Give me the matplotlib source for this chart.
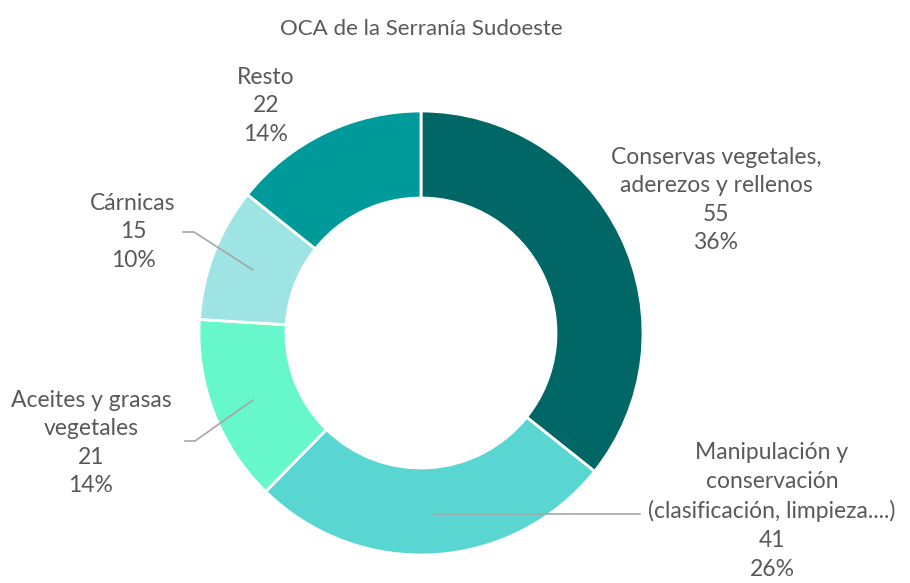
import matplotlib.pyplot as plt

# datos del grafico
categorias = ['Conservas vegetales,\naderezos y rellenos',
              'Manipulación y\nconservación\n(clasificación, limpieza....)',
              'Aceites y grasas\nvegetales',
              'Cárnicas',
              'Resto']
valores = [55, 41, 21, 15, 22]
porcentajes = ['36%', '26%', '14%', '10%', '14%']
colores = ['#006666', '#59D6D2', '#66F8CA', '#9EE4E4', '#009A9A']

# posiciones de etiquetas (px desde arriba)
pos_etiquetas = [(716, 200), (772, 511), (91, 443), (133, 232), (266, 106)]

plt.rcParams['font.family'] = ['Lato', 'DejaVu Sans']

fig = plt.figure(figsize=(9.1, 5.83), dpi=100)
ax = fig.add_axes([0, 0, 1, 1])

wedges, _ = ax.pie(valores, colors=colores, center=(421, 333), radius=222,
                   startangle=-90, counterclock=True,
                   wedgeprops=dict(width=87, edgecolor='white', linewidth=2))
ax.set_xlim(0, 910)
ax.set_ylim(583, 0)
ax.set_aspect('equal')
ax.axis('off')

for cat, v, p, (x, y) in zip(categorias, valores, porcentajes, pos_etiquetas):
    ax.text(x, y, f'{cat}\n{v}\n{p}', ha='center', va='center', fontsize=16.5,
            color='#595959', linespacing=1.45)

# lineas guia
gris = '#a6a6a6'
ax.plot([183, 194, 253], [232, 232, 270], color=gris, lw=1.2)
ax.plot([185, 195, 253], [441, 441, 400], color=gris, lw=1.2)
ax.plot([434, 640], [514, 514], color=gris, lw=1.2)

ax.text(421, 29, 'OCA de la Serranía Sudoeste', ha='center', va='center',
        fontsize=16, color='#595959')

fig.savefig('out.png', dpi=100)
